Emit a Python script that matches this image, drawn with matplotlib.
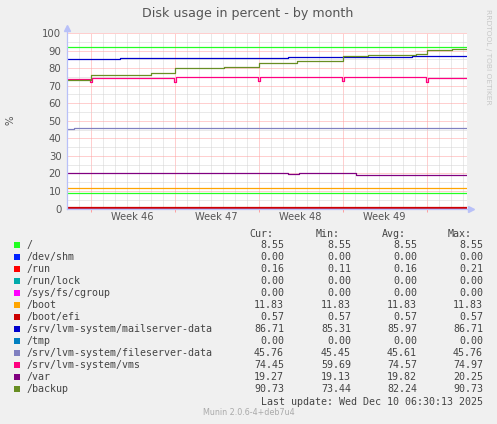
import matplotlib
matplotlib.use("Agg")
import matplotlib.pyplot as plt
from matplotlib.patches import Rectangle

W, H = 497, 424

# x axis is in days from the left edge of the graph (one month window)
t_end = 400 / 12
week_starts = [1.97, 8.97, 15.97, 22.97, 29.97]
week_labels = ["Week 46", "Week 47", "Week 48", "Week 49"]
day_ticks = [0.97 + k for k in range(33)]

names = ["/", "/dev/shm", "/run", "/run/lock", "/sys/fs/cgroup", "/boot",
         "/boot/efi", "/srv/lvm-system/mailserver-data", "/tmp",
         "/srv/lvm-system/fileserver-data", "/srv/lvm-system/vms", "/var",
         "/backup"]
colors = ["#22ff22", "#0022ff", "#ff0000", "#00aaaa", "#ff00ff", "#ffa500",
          "#cc0000", "#0000cc", "#0080c0", "#8080c0", "#ff0080", "#800080",
          "#688e23"]

# step series: (start times, values)
series = {
    "/": ([0], [8.55]),
    "/dev/shm": ([0], [0.0]),
    "/run": ([0], [0.16]),
    "/run/lock": ([0], [0.0]),
    "/sys/fs/cgroup": ([0], [0.0]),
    "/boot": ([0], [11.83]),
    "/boot/efi": ([0], [0.57]),
    "/srv/lvm-system/mailserver-data": ([0, 4.42, 18.39, 28.73],
                                        [85.31, 85.8, 86.2, 86.71]),
    "/tmp": ([0], [0.0]),
    "/srv/lvm-system/fileserver-data": ([0, 0.6], [45.45, 45.76]),
    "/srv/lvm-system/vms": ([0, 1.95, 2.05, 8.95, 9.05, 15.95, 16.05, 22.95, 23.05, 29.95, 30.05],
                            [73.8, 72.3, 74.4, 72.3, 74.97, 72.5, 74.97, 72.5, 74.97, 72.3, 74.45]),
    "/var": ([0, 18.42, 19.33, 24.06, 27.06, 27.67],
             [20.1, 19.4, 20.1, 19.3, 19.13, 19.27]),
    "/backup": ([0, 1.97, 7.03, 8.97, 13.08, 16.0, 19.14, 23.0, 25.06, 29.06, 30.03, 32.06],
                [73.44, 76.2, 77.0, 79.9, 80.5, 83.1, 83.9, 86.7, 87.3, 88.0, 90.3, 90.73]),
}
root_warning = 92

cur = [8.55, 0.00, 0.16, 0.00, 0.00, 11.83, 0.57, 86.71, 0.00, 45.76, 74.45, 19.27, 90.73]
mins = [8.55, 0.00, 0.11, 0.00, 0.00, 11.83, 0.57, 85.31, 0.00, 45.45, 59.69, 19.13, 73.44]
avgs = [8.55, 0.00, 0.16, 0.00, 0.00, 11.83, 0.57, 85.97, 0.00, 45.61, 74.57, 19.82, 82.24]
maxs = [8.55, 0.00, 0.21, 0.00, 0.00, 11.83, 0.57, 86.71, 0.00, 45.76, 74.97, 20.25, 90.73]


def fx(x):
    return x / W


def fy(y):
    return 1 - y / H


bg = "#f0f0f0"
axis_col = "#b8c0f8"
txt = "#444444"

fig = plt.figure(figsize=(W / 100, H / 100), dpi=100, facecolor=bg)
ax = fig.add_axes([fx(67), fy(208.5), 400 / W, 175.5 / H])
ax.set_facecolor("white")
ax.set_xlim(0, t_end)
ax.set_ylim(0, 100)

# grid
ax.set_xticks(week_starts)
ax.set_xticks(day_ticks, minor=True)
ax.set_yticks(range(0, 101, 10))
ax.set_yticks(range(5, 100, 10), minor=True)
ax.grid(True, which="major", color="#ffa0a0", linestyle=(0, (1, 1)), linewidth=0.72)
ax.grid(True, which="minor", color="#d4d4d4", linestyle=(0, (1, 1)), linewidth=0.72)
ax.set_axisbelow(True)
ax.set_xticklabels([])
ax.tick_params(axis="x", which="major", length=2.5, color="#ffa0a0", width=0.72)
ax.tick_params(axis="x", which="minor", length=0)
ax.tick_params(axis="y", which="both", length=0, pad=4, labelsize=7.3, labelcolor="#555555")
for s in ax.spines.values():
    s.set_visible(False)

for i, lab in enumerate(week_labels):
    mid = (week_starts[i] + week_starts[i + 1]) / 2
    ax.text(mid, -0.02, lab, transform=ax.get_xaxis_transform(), ha="center", va="top",
            fontsize=7.1, color="#555555")

# data
for name, c in zip(names, colors):
    ts, vs = series[name]
    ax.step(list(ts) + [t_end], list(vs) + [vs[-1]], where="post", color=c, lw=0.9,
            solid_capstyle="butt")
ax.axhline(root_warning, color=colors[0], lw=0.9)

# axes with arrows
ax.plot([0, 0], [0, 102.5], color=axis_col, lw=0.9, clip_on=False, zorder=5)
ax.plot([0, 33.55], [0, 0], color=axis_col, lw=0.9, clip_on=False, zorder=5)
ax.plot([0], [102.8], marker="^", ms=4, color=axis_col, clip_on=False, zorder=5)
ax.plot([33.65], [0], marker=">", ms=4, color=axis_col, clip_on=False, zorder=5)

# texts
fig.text(fx(247.5), fy(14), "Disk usage in percent - by month", ha="center", va="center",
         fontsize=9.1, color="#555555")
fig.text(fx(10), fy(120), "%", rotation=90, ha="center", va="center", fontsize=7.3,
         color="#555555")
fig.text(fx(488), fy(57), "RRDTOOL / TOBI OETIKER", rotation=-90, ha="center", va="center",
         fontsize=5.4, color="#c8c8c8")

mono = "DejaVu Sans Mono"
fs = 7.2
for x, h in zip([249, 315.7, 381.7, 447.7], ["Cur:", "Min:", "Avg:", "Max:"]):
    fig.text(fx(x), fy(234), h, family=mono, fontsize=fs, color=txt, ha="left", va="center")

for i, name in enumerate(names):
    y = 245 + 12 * i
    fig.patches.append(Rectangle((fx(14), fy(y + 3)), 6 / W, 6 / H, transform=fig.transFigure,
                                 facecolor=colors[i], edgecolor="none"))
    fig.text(fx(26.5), fy(y), name, family=mono, fontsize=fs, color=txt, ha="left", va="center")
    for x, vals in zip([284, 351, 417, 483], [cur, mins, avgs, maxs]):
        fig.text(fx(x), fy(y), "%.2f" % vals[i], family=mono, fontsize=fs, color=txt,
                 ha="right", va="center")

fig.text(fx(483), fy(401.7), "Last update: Wed Dec 10 06:30:13 2025", family=mono, fontsize=fs,
         color=txt, ha="right", va="center")
fig.text(fx(249), fy(412.7), "Munin 2.0.6-4+deb7u4", fontsize=5.8, color="#aaaaaa",
         ha="center", va="center")

fig.savefig("out.png", dpi=100, facecolor=bg)
